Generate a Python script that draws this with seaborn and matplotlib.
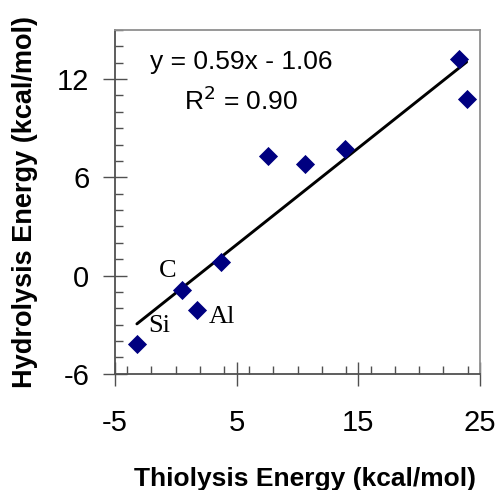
import numpy as np
import matplotlib
matplotlib.use("Agg")
import matplotlib.pyplot as plt
from matplotlib.ticker import MultipleLocator
import seaborn as sns
import pandas as pd

#################################################
#   DATA    -------------------------------------
#################################################
thiolysis = [-3.2, 0.5, 1.7, 3.7, 7.6, 10.6, 13.9, 23.3, 23.9]
hydrolysis = [-4.2, -0.9, -2.1, 0.8, 7.3, 6.8, 7.7, 13.2, 10.8]

slope = 0.59
intercept = -1.06
r_squared = 0.90

point_labels = ["Si", "C", "Al"]
label_x = [-1.4, -0.65, 3.8]
label_y = [-3.1, 0.3, -2.5]

x_ticks = [-5, 5, 15, 25]
y_ticks = [-6, 0, 6, 12]

df = pd.DataFrame({"Thiolysis": thiolysis, "Hydrolysis": hydrolysis})
fit_x = np.array([min(thiolysis), max(thiolysis)])
fit_df = pd.DataFrame({"x": fit_x, "y": slope * fit_x + intercept})

#################################################
#   PLOT    -------------------------------------
#################################################
sns.set_style("white")
plt.rcParams['font.family'] = ['Liberation Sans', 'DejaVu Sans']
plt.rcParams['axes.unicode_minus'] = False

fig = plt.figure(figsize=(5, 4.9), dpi=100)
ax = fig.add_axes([0.23, 0.237, 0.73, 0.702])

sns.lineplot(data=fit_df, x="x", y="y", ax=ax, color="black", linewidth=2.1)
sns.scatterplot(data=df, x="Thiolysis", y="Hydrolysis", ax=ax,
                marker="D", s=95, color="#000080", linewidth=0, zorder=3)

for lab, lx, ly in zip(point_labels, label_x, label_y):
    ax.text(lx, ly, lab, fontsize=19, family=['Liberation Serif'],
            color='black', ha='center', va='center')

ax.text(5.4, 13.05, "y = %.2fx - %.2f" % (slope, -intercept),
        fontsize=19, color='black', ha='center', va='center')
ax.text(5.4, 10.7, "R$^2$ = %.2f" % r_squared,
        fontsize=19, color='black', ha='center', va='center')

ax.set_xlim(-5, 25)
ax.set_ylim(-6, 15)
ax.set_xticks(x_ticks)
ax.set_yticks(y_ticks)
ax.xaxis.set_minor_locator(MultipleLocator(2))
ax.yaxis.set_minor_locator(MultipleLocator(1))

ax.tick_params(which='major', direction='inout', length=17, width=1,
               color='#505050', labelsize=21, labelcolor='black')
ax.tick_params(which='minor', direction='in', length=6, width=1,
               color='#505050')
ax.tick_params(axis='x', which='major', pad=17, bottom=True)
ax.tick_params(axis='y', which='major', pad=10, left=True)
ax.tick_params(axis='x', which='minor', bottom=True)
ax.tick_params(axis='y', which='minor', left=True)

for side in ['left', 'bottom']:
    ax.spines[side].set_color('#505050')
    ax.spines[side].set_linewidth(1.3)
for side in ['top', 'right']:
    ax.spines[side].set_color('#909090')
    ax.spines[side].set_linewidth(1.3)

ax.set_xlabel("Thiolysis Energy (kcal/mol)", fontsize=19, fontweight='bold',
              color='black')
ax.set_ylabel("Hydrolysis Energy (kcal/mol)", fontsize=19.5, fontweight='bold',
              color='black')
ax.xaxis.set_label_coords(0.52, -0.272)
ax.yaxis.set_label_coords(-0.21, 0.5)

fig.savefig("out.png", dpi=100)
